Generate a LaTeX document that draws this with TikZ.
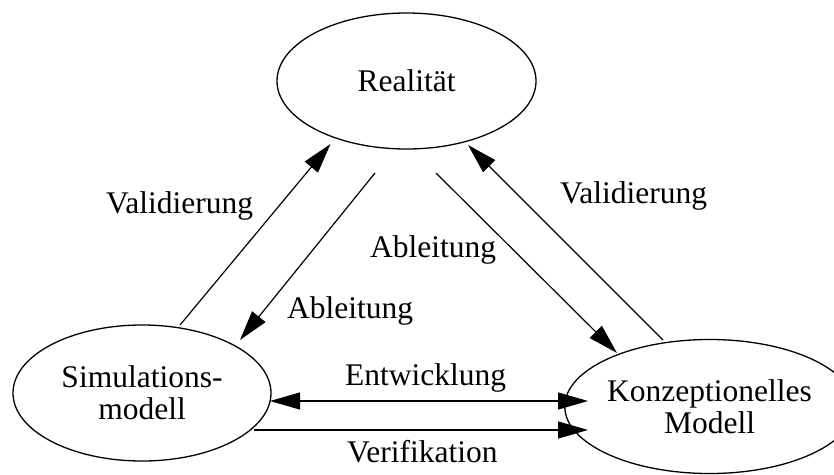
\documentclass[tikz,border=0pt]{standalone}
\usepackage{fontspec}
\setmainfont{Liberation Serif}
\usetikzlibrary{shapes.geometric,arrows.meta,calc}
\begin{document}
\begin{tikzpicture}[x=1pt,y=-1pt,
  every node/.style={font=\fontsize{31.5}{32}\selectfont},
  state/.style={draw,ellipse,line width=1.3pt,inner sep=0pt,align=center},
  lbl/.style={anchor=base west,inner sep=0pt},
  arr/.style={line width=1.2pt,-{Triangle[length=30pt,width=17pt]}},
  darr/.style={line width=1.2pt,{Triangle[length=30pt,width=17pt]}-{Triangle[length=30pt,width=17pt]}}]
\useasboundingbox (0,0) rectangle (834,474);

% the three models
\node[state,minimum width=259pt,minimum height=136pt] (real) at (406.5,81) {Realität};
\node[state,minimum width=258pt,minimum height=136pt] (sim) at (142,393) {Simulations-\\modell};
\node[state,minimum width=245pt,minimum height=134pt] (konz) at (709.5,406.5) {Konzeptionelles\\Modell};

% connector end points just off the ellipses
\coordinate (valLs) at ($(sim)+(38,-68)$);
\coordinate (valLe) at ($(real)+(-76,63)$);
\coordinate (ablLs) at ($(real)+(-31.5,92)$);
\coordinate (ablLe) at ($(sim)+(98,-53)$);
\coordinate (ablRs) at ($(real)+(29.5,92)$);
\coordinate (ablRe) at ($(konz)+(-92.5,-53.5)$);
\coordinate (valRs) at ($(konz)+(-46.5,-66.5)$);
\coordinate (valRe) at ($(real)+(61.5,64)$);
\coordinate (entS) at ($(sim)+(128,8)$);
\coordinate (entE) at ($(konz)+(-121.5,-5.5)$);
\coordinate (verS) at ($(sim)+(112,37)$);
\coordinate (verE) at ($(konz)+(-121.5,23.5)$);

\draw[arr] (valLs) -- (valLe);
\draw[arr] (ablLs) -- (ablLe);
\draw[arr] (ablRs) -- (ablRe);
\draw[arr] (valRs) -- (valRe);
\draw[darr] (entS) -- (entE);
\draw[arr] (verS) -- (verE);

% connector labels
\node[lbl] (tValL) at (106,213) {Validierung};
\node[lbl] (tAblL) at (287,318) {Ableitung};
\node[lbl] (tAblR) at (370,257) {Ableitung};
\node[lbl] (tValR) at (560,203) {Validierung};
\node[lbl] (tEnt) at (345,385) {Entwicklung};
\node[lbl] (tVer) at (347,462) {Verifikation};
\end{tikzpicture}
\end{document}
